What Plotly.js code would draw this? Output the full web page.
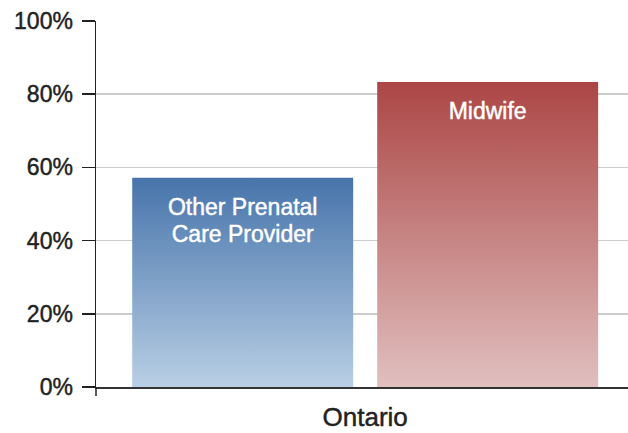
<!DOCTYPE html>
<html>
<head>
<meta charset="utf-8">
<script src="https://cdn.plot.ly/plotly-3.0.1.min.js"></script>
<style>html,body{margin:0;padding:0;background:#fff;}#chart{width:628px;height:433px;}</style>
</head>
<body>
<div id="chart"></div>
<script>
const categories = ['Ontario'];
const seriesNames = ['Other Prenatal<br>Care Provider', 'Midwife'];
const otherValues = [57.2];
const midwifeValues = [83.3];
const yTickValues = [0, 20, 40, 60, 80, 100];
const yTickLabels = ['0%', '20%', '40%', '60%', '80%', '100%'];

const gradients = [
  {id: 'gradBlue', top: '#4774ab', bottom: '#b9cfe5', mid: '#7f9fc7'},
  {id: 'gradRed', top: '#ab4645', bottom: '#e0c0bf', mid: '#c58381'}
];

const font = '"Liberation Sans", Arial, Helvetica, sans-serif';

const traces = [
  {type: 'bar', x: categories, y: otherValues, name: 'Other', text: [seriesNames[0]],
   marker: {color: gradients[0].mid, line: {width: 0}}},
  {type: 'bar', x: categories, y: midwifeValues, name: 'Midwife', text: [seriesNames[1]],
   marker: {color: gradients[1].mid, line: {width: 0}}}
];
traces.forEach(t => {
  t.textposition = 'inside';
  t.insidetextanchor = 'end';
  t.textangle = 0;
  t.constraintext = 'none';
  t.textfont = {family: font, size: 23, color: '#ffffff'};
  t.hoverinfo = 'none';
});

const layout = {
  width: 628, height: 433,
  margin: {l: 96, r: 0, t: 21, b: 46, pad: 0},
  paper_bgcolor: '#ffffff', plot_bgcolor: '#ffffff',
  showlegend: false,
  barmode: 'group', bargap: 0.079, bargroupgap: 0.098,
  font: {family: font, color: '#222222'},
  xaxis: {
    type: 'category', range: [-0.506, 0.494],
    showline: true, linecolor: '#333333', linewidth: 2,
    ticks: '', showgrid: false, zeroline: false,
    ticklabelstandoff: 6,
    tickfont: {family: font, size: 26, color: '#222222'}
  },
  yaxis: {
    range: [0, 100], tickvals: yTickValues, ticktext: yTickLabels,
    ticks: 'outside', ticklen: 13, tickwidth: 1.5, tickcolor: '#222222',
    ticklabelstandoff: 4,
    showline: true, linecolor: '#222222', linewidth: 1.5,
    showgrid: true, gridcolor: '#cccccc', gridwidth: 1.5,
    zeroline: false,
    tickfont: {family: font, size: 23, color: '#222222'}
  },
  shapes: [
    {type: 'line', xref: 'paper', yref: 'paper', x0: 0, x1: 0, y0: 0, y1: -9/366,
     line: {color: '#222222', width: 1.5}}
  ]
};

Plotly.newPlot('chart', traces, layout, {displayModeBar: false, staticPlot: true}).then(gd => {
  const svg = gd.querySelector('svg.main-svg');
  let defs = svg.querySelector('defs');
  const NS = 'http://www.w3.org/2000/svg';
  if (!defs) { defs = document.createElementNS(NS, 'defs'); svg.insertBefore(defs, svg.firstChild); }
  gradients.forEach(g => {
    const lg = document.createElementNS(NS, 'linearGradient');
    lg.setAttribute('id', g.id);
    lg.setAttribute('x1', '0'); lg.setAttribute('y1', '0');
    lg.setAttribute('x2', '0'); lg.setAttribute('y2', '1');
    [['0', g.top], ['1', g.bottom]].forEach(([o, c]) => {
      const s = document.createElementNS(NS, 'stop');
      s.setAttribute('offset', o); s.setAttribute('stop-color', c);
      lg.appendChild(s);
    });
    defs.appendChild(lg);
  });
  const traceGroups = gd.querySelectorAll('.barlayer .trace');
  traceGroups.forEach((tg, i) => {
    tg.querySelectorAll('.point path').forEach(p => {
      p.style.fill = 'url(#' + gradients[i].id + ')';
    });
    tg.querySelectorAll('text.bartext').forEach(t => {
      const tr = t.getAttribute('transform') || '';
      t.setAttribute('transform', 'translate(0,13) ' + tr);
      t.querySelectorAll('tspan.line').forEach((ts, k) => {
        if (k > 0) ts.setAttribute('dy', '1.17em');
      });
    });
  });
  // slightly heavier strokes to mimic the medium-weight typeface
  gd.querySelectorAll('.xtick text, .ytick text, text.bartext').forEach(t => {
    const c = t.style.fill || '#222222';
    t.style.stroke = c;
    t.style.strokeWidth = '0.45px';
  });
});
</script>
</body>
</html>
